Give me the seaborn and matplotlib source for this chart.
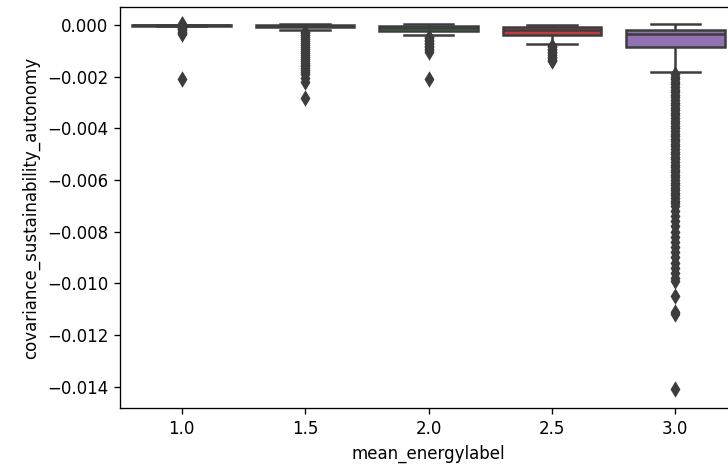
import pandas as pd
import matplotlib.pyplot as plt
import seaborn as sns

# categories on the x axis
labels = ['1.0', '1.5', '2.0', '2.5', '3.0']

# box summaries: low whisker, q1, median, q3, high whisker
box_10 = [-0.00003, -0.00002, -0.00001, 0.0, 0.00001]
box_15 = [-0.00018, -0.00008, -0.00004, -0.00001, 0.00003]
box_20 = [-0.00040, -0.00022, -0.00010, -0.00002, 0.00003]
box_25 = [-0.00075, -0.00039, -0.00020, -0.00009, 0.00002]
box_30 = [-0.00183, -0.00086, -0.00036, -0.00019, 0.00003]

# outliers (diamonds)
out_10 = [0.00006, 0.00003, -0.00004, -0.00008, -0.00012, -0.00016, -0.0002,
          -0.00025, -0.0003, -0.00035, -0.00207]
out_15 = [-0.00025, -0.00032, -0.0004, -0.00048, -0.00055, -0.00063, -0.0007,
          -0.00078, -0.00085, -0.00093, -0.001, -0.00108, -0.00115, -0.00123,
          -0.0013, -0.00138, -0.00145, -0.00153, -0.0016, -0.00168, -0.00175,
          -0.00183, -0.0019, -0.00205, -0.0022, -0.00282]
out_20 = [-0.00045, -0.0005, -0.00056, -0.00062, -0.00068, -0.00074, -0.0008,
          -0.00086, -0.00092, -0.00098, -0.00104, -0.00208]
out_25 = [-0.0008, -0.00086, -0.00092, -0.00098, -0.00104, -0.0011, -0.00116,
          -0.00122, -0.00128, -0.00134, -0.0014]
out_30 = [-0.0019, -0.002, -0.0021, -0.0022, -0.0023, -0.0024, -0.0025, -0.0026,
          -0.0027, -0.0028, -0.0029, -0.003, -0.0031, -0.0032, -0.0033, -0.0034,
          -0.0035, -0.0036, -0.0037, -0.0038, -0.0039, -0.004, -0.0041, -0.0042,
          -0.0043, -0.0044, -0.0045, -0.0046, -0.0047, -0.0048, -0.0049, -0.005,
          -0.0051, -0.0052, -0.0053, -0.0054, -0.0055, -0.0056, -0.0057, -0.0058,
          -0.0059, -0.006, -0.0061, -0.0062, -0.0063, -0.0064, -0.0065, -0.0066,
          -0.0067, -0.0068, -0.0069, -0.007, -0.0072, -0.0074, -0.0076, -0.0078,
          -0.008, -0.0082, -0.0084, -0.0086, -0.0088, -0.009, -0.0092, -0.0094,
          -0.0096, -0.0098, -0.0099, -0.0105, -0.0111, -0.0112, -0.0141]

boxes = [box_10, box_15, box_20, box_25, box_30]
outliers = [out_10, out_15, out_20, out_25, out_30]

body = pd.DataFrame([(lab, v) for lab, vals in zip(labels, boxes) for v in vals],
                    columns=['mean_energylabel', 'covariance_sustainability_autonomy'])
fliers = pd.DataFrame([(lab, v) for lab, vals in zip(labels, outliers) for v in vals],
                      columns=['mean_energylabel', 'covariance_sustainability_autonomy'])

palette = ['#1f77b4', '#ff7f0e', '#2ca02c', '#d62728', '#9467bd']
gray = '#3d3d3d'

fig = plt.figure(figsize=(728 / 120, 473 / 120), dpi=120)
ax = fig.add_axes([0.1648, 0.1374, 0.8476, 0.8478])

sns.boxplot(x='mean_energylabel', y='covariance_sustainability_autonomy', data=body,
            hue='mean_energylabel', palette=palette, legend=False, order=labels,
            saturation=0.75, linewidth=1.5, linecolor=gray, showfliers=False, ax=ax)
sns.stripplot(x='mean_energylabel', y='covariance_sustainability_autonomy', data=fliers,
              order=labels, jitter=False, color=gray, marker='d', size=7,
              linewidth=0, ax=ax)

ax.set_ylim(-0.01483, 0.0007)
ax.set_xlim(-0.5, 4.5)
ax.set_xlabel('mean_energylabel')
ax.set_ylabel('covariance_sustainability_autonomy')

fig.savefig('out.png', dpi=120)
